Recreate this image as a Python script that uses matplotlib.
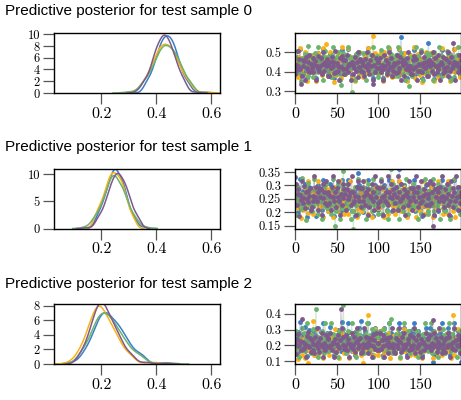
import numpy as np
import matplotlib.pyplot as plt
from matplotlib.ticker import FuncFormatter

plt.rcParams["font.family"] = "cmr10"
plt.rcParams["axes.formatter.use_mathtext"] = True

# chain colours (4 chains per test sample)
chain_colors = ["#3b7ec8", "#fbb117", "#6cb36c", "#7e5a8c"]

# posterior predictive draws (x1000), one list per chain -- test sample 0
s0_chain0 = [
    457, 411, 442, 386, 475, 433, 514, 417, 452, 397, 469, 438, 494, 423, 366, 447, 405, 483, 428, 463,
    426, 485, 407, 449, 461, 368, 444, 421, 496, 409, 435, 473, 399, 454, 516, 415, 459, 436, 471, 384,
    471, 422, 491, 440, 403, 455, 445, 369, 466, 394, 443, 430, 480, 419, 459, 389, 511, 431, 478, 409,
    399, 444, 414, 517, 431, 472, 425, 450, 383, 466, 436, 461, 363, 486, 426, 455, 413, 497, 407, 449,
    445, 388, 460, 430, 481, 436, 459, 402, 518, 413, 450, 420, 440, 369, 473, 435, 491, 425, 467, 399,
    465, 430, 481, 407, 445, 368, 425, 492, 440, 471, 399, 454, 415, 516, 437, 473, 388, 444, 413, 455,
    386, 469, 438, 457, 417, 514, 452, 575, 475, 433, 411, 494, 423, 442, 366, 463, 447, 405, 483, 428,
    413, 477, 431, 511, 389, 455, 419, 480, 426, 444, 395, 466, 369, 449, 450, 407, 436, 497, 423, 471,
    548, 403, 491, 413, 459, 426, 486, 363, 461, 440, 467, 388, 455, 421, 477, 431, 512, 419, 444, 395,
    399, 467, 425, 496, 431, 473, 368, 444, 415, 455, 409, 517, 403, 459, 436, 481, 430, 461, 384, 449]
s0_chain1 = [
    455, 402, 438, 372, 476, 427, 521, 409, 449, 384, 468, 432, 498, 415, 349, 443, 394, 486, 421, 461,
    423, 483, 397, 440, 464, 352, 436, 418, 495, 405, 429, 473, 381, 452, 518, 411, 458, 541, 465, 375,
    466, 417, 501, 430, 391, 451, 441, 346, 463, 381, 440, 419, 489, 406, 457, 369, 524, 425, 479, 400,
    387, 436, 411, 518, 424, 479, 413, 452, 369, 465, 434, 459, 352, 489, 418, 457, 399, 501, 391, 445,
    441, 374, 463, 419, 483, 430, 457, 392, 518, 404, 447, 411, 440, 584, 479, 425, 495, 417, 466, 386,
    463, 418, 489, 396, 441, 352, 413, 501, 430, 471, 381, 451, 406, 519, 425, 478, 370, 440, 399, 457,
    375, 466, 434, 452, 411, 518, 447, 387, 473, 429, 404, 495, 417, 436, 352, 458, 445, 391, 483, 424,
    400, 478, 425, 524, 369, 457, 407, 489, 419, 440, 382, 463, 346, 441, 451, 392, 430, 501, 413, 471,
    445, 391, 496, 405, 453, 418, 488, 352, 459, 434, 466, 374, 451, 412, 478, 425, 518, 411, 436, 387,
    381, 471, 413, 501, 429, 473, 351, 436, 407, 452, 404, 517, 396, 457, 430, 484, 423, 459, 374, 441]
s0_chain2 = [
    474, 420, 505, 437, 398, 454, 449, 352, 467, 388, 443, 426, 492, 413, 460, 375, 528, 431, 482, 406,
    451, 372, 469, 424, 495, 435, 462, 396, 525, 409, 452, 415, 441, 355, 480, 433, 503, 418, 476, 386,
    462, 403, 445, 372, 484, 429, 525, 411, 456, 386, 476, 435, 502, 422, 355, 330, 396, 494, 424, 469,
    386, 445, 411, 525, 433, 479, 422, 452, 293, 476, 435, 469, 355, 489, 428, 458, 408, 502, 396, 451,
    424, 494, 396, 451, 465, 355, 441, 422, 502, 408, 429, 484, 386, 456, 525, 411, 462, 435, 477, 372,
    390, 471, 418, 508, 433, 479, 355, 441, 415, 452, 404, 524, 400, 458, 439, 489, 424, 469, 377, 447,
    404, 484, 429, 525, 377, 462, 411, 494, 428, 441, 386, 469, 355, 447, 456, 396, 439, 325, 418, 476,
    377, 471, 435, 463, 411, 525, 452, 390, 479, 433, 404, 508, 418, 445, 355, 465, 451, 396, 494, 424,
    469, 424, 489, 400, 447, 355, 422, 502, 435, 476, 386, 456, 411, 525, 429, 484, 377, 441, 408, 462,
    451, 396, 503, 408, 458, 428, 489, 355, 469, 435, 476, 372, 456, 418, 484, 429, 525, 415, 441, 390]
s0_chain3 = [
    387, 432, 407, 504, 428, 465, 413, 335, 376, 459, 428, 453, 356, 473, 418, 447, 401, 484, 395, 437,
    420, 470, 397, 435, 455, 359, 430, 415, 481, 403, 426, 467, 389, 440, 501, 405, 449, 426, 462, 378,
    435, 378, 451, 420, 476, 426, 449, 393, 507, 399, 444, 405, 430, 359, 467, 421, 481, 415, 457, 389,
    457, 415, 486, 426, 397, 440, 439, 358, 451, 389, 434, 416, 475, 405, 449, 374, 501, 425, 463, 403,
    449, 399, 434, 378, 463, 425, 501, 409, 440, 389, 457, 426, 486, 337, 358, 435, 397, 471, 420, 451,
    451, 420, 471, 397, 435, 358, 415, 482, 426, 461, 385, 444, 409, 502, 421, 467, 378, 430, 403, 445,
    439, 393, 486, 399, 449, 416, 475, 358, 451, 432, 457, 378, 444, 411, 467, 426, 501, 409, 430, 389,
    389, 457, 415, 481, 425, 463, 358, 434, 405, 440, 403, 502, 397, 445, 426, 475, 416, 451, 378, 435,
    378, 461, 426, 449, 405, 501, 440, 389, 467, 430, 399, 486, 411, 434, 358, 451, 439, 393, 475, 420,
    403, 463, 421, 501, 378, 449, 405, 475, 416, 434, 545, 451, 358, 435, 444, 397, 426, 486, 411, 457]

# test sample 1
s1_chain0 = [
    269, 226, 255, 202, 286, 246, 323, 232, 264, 212, 280, 251, 304, 237, 183, 260, 220, 294, 242, 274,
    244, 291, 222, 258, 277, 186, 253, 239, 301, 228, 248, 283, 210, 266, 320, 230, 271, 249, 282, 205,
    278, 239, 307, 249, 222, 262, 258, 186, 276, 210, 257, 240, 296, 234, 267, 200, 320, 248, 284, 228,
    210, 257, 230, 320, 248, 283, 239, 262, 205, 278, 249, 276, 186, 291, 244, 345, 228, 301, 222, 258,
    262, 200, 276, 240, 291, 253, 267, 222, 320, 228, 262, 230, 257, 186, 284, 248, 301, 239, 278, 210,
    276, 240, 291, 222, 258, 186, 239, 301, 249, 282, 210, 266, 230, 320, 248, 284, 205, 257, 228, 267,
    205, 278, 249, 271, 230, 362, 262, 210, 284, 248, 228, 301, 239, 257, 186, 276, 258, 222, 291, 244,
    228, 284, 248, 320, 205, 267, 230, 291, 244, 253, 210, 276, 186, 262, 262, 222, 249, 301, 239, 278,
    258, 222, 301, 228, 271, 240, 291, 186, 276, 249, 282, 205, 262, 239, 284, 248, 320, 230, 257, 210,
    210, 278, 239, 301, 248, 284, 186, 253, 230, 266, 228, 320, 222, 267, 249, 291, 244, 276, 205, 258]
s1_chain1 = [
    275, 232, 299, 246, 215, 259, 255, 178, 269, 207, 250, 237, 289, 227, 264, 197, 318, 241, 281, 221,
    257, 195, 271, 235, 291, 244, 266, 213, 315, 223, 261, 225, 252, 181, 279, 243, 296, 234, 277, 205,
    239, 287, 217, 253, 271, 181, 248, 234, 296, 223, 243, 279, 205, 261, 315, 225, 266, 244, 277, 195,
    266, 219, 252, 195, 283, 239, 315, 229, 261, 205, 277, 244, 296, 234, 181, 257, 213, 291, 235, 271,
    205, 252, 225, 315, 243, 279, 234, 257, 195, 277, 244, 271, 181, 287, 239, 262, 223, 296, 217, 253,
    253, 217, 296, 223, 262, 239, 287, 181, 271, 244, 277, 195, 261, 230, 283, 243, 315, 225, 252, 205,
    195, 277, 244, 266, 225, 315, 261, 205, 283, 239, 223, 296, 234, 248, 181, 271, 257, 213, 291, 235,
    271, 235, 291, 213, 257, 181, 230, 296, 244, 277, 205, 261, 225, 315, 243, 279, 195, 252, 219, 266,
    205, 277, 230, 296, 243, 279, 181, 248, 225, 261, 223, 315, 213, 266, 235, 291, 244, 271, 195, 257,
    223, 279, 243, 315, 195, 266, 225, 291, 235, 252, 205, 271, 181, 257, 261, 213, 244, 296, 230, 277]
s1_chain2 = [
    258, 192, 274, 237, 296, 248, 268, 213, 328, 220, 263, 226, 252, 172, 287, 242, 308, 232, 280, 204,
    206, 250, 228, 325, 244, 285, 234, 261, 195, 278, 246, 276, 175, 294, 239, 266, 222, 305, 215, 256,
    266, 222, 250, 195, 285, 244, 325, 228, 148, 206, 278, 246, 305, 234, 175, 256, 215, 294, 355, 276,
    278, 234, 305, 246, 215, 261, 256, 175, 276, 206, 140, 239, 294, 228, 266, 195, 325, 244, 285, 222,
    239, 294, 215, 256, 276, 175, 250, 234, 305, 222, 244, 285, 206, 261, 325, 228, 266, 246, 278, 195,
    222, 285, 244, 325, 195, 266, 228, 294, 239, 250, 206, 276, 175, 256, 261, 360, 246, 305, 234, 278,
    276, 239, 294, 215, 256, 175, 234, 305, 246, 278, 206, 261, 228, 325, 244, 285, 195, 250, 222, 266,
    256, 215, 305, 222, 266, 239, 294, 175, 276, 246, 278, 195, 261, 234, 285, 244, 325, 228, 250, 206,
    195, 278, 246, 266, 228, 325, 261, 206, 285, 244, 222, 305, 234, 250, 175, 276, 256, 215, 294, 239,
    206, 278, 234, 305, 244, 285, 175, 250, 228, 261, 222, 325, 215, 266, 246, 294, 239, 276, 195, 256]
s1_chain3 = [
    333, 306, 226, 269, 285, 187, 264, 245, 317, 233, 255, 298, 218, 274, 250, 239, 279, 260, 291, 207,
    220, 262, 241, 334, 257, 296, 243, 276, 209, 289, 258, 287, 190, 304, 252, 277, 235, 315, 228, 267,
    277, 235, 262, 209, 296, 257, 334, 241, 276, 220, 289, 258, 315, 243, 190, 267, 228, 304, 252, 287,
    267, 209, 287, 248, 304, 262, 277, 228, 334, 235, 276, 241, 262, 190, 296, 257, 315, 243, 289, 220,
    289, 243, 315, 262, 228, 276, 267, 190, 287, 220, 262, 252, 304, 241, 277, 209, 334, 257, 296, 235,
    220, 289, 243, 315, 257, 296, 190, 262, 241, 276, 235, 334, 228, 277, 258, 304, 252, 287, 209, 267,
    235, 296, 257, 334, 209, 277, 241, 304, 252, 262, 220, 287, 190, 267, 276, 228, 258, 315, 243, 289,
    209, 289, 258, 277, 241, 334, 276, 220, 296, 257, 235, 315, 243, 262, 190, 287, 267, 228, 304, 252,
    267, 228, 315, 235, 277, 150, 304, 190, 287, 258, 289, 209, 276, 243, 296, 257, 334, 241, 262, 220,
    287, 252, 304, 228, 267, 190, 243, 315, 262, 289, 220, 276, 241, 334, 257, 296, 209, 262, 235, 277]

# test sample 2
s2_chain0 = [
    254, 190, 229, 159, 284, 217, 347, 198, 246, 172, 273, 223, 315, 205, 135, 237, 182, 297, 211, 263,
    213, 294, 185, 235, 266, 138, 227, 207, 312, 192, 215, 287, 170, 248, 344, 196, 256, 221, 276, 162,
    271, 207, 318, 221, 185, 244, 239, 138, 261, 174, 231, 209, 299, 196, 256, 161, 350, 215, 281, 192,
    174, 227, 200, 344, 215, 286, 207, 244, 161, 271, 225, 261, 138, 294, 213, 252, 192, 312, 185, 357,
    239, 161, 261, 213, 294, 225, 252, 185, 344, 192, 248, 196, 231, 138, 281, 219, 312, 207, 271, 174,
    261, 213, 294, 185, 239, 138, 207, 312, 225, 271, 174, 248, 196, 344, 219, 281, 162, 231, 192, 252,
    162, 271, 225, 252, 200, 344, 248, 174, 281, 219, 192, 312, 207, 231, 138, 261, 239, 185, 294, 213,
    192, 281, 219, 344, 161, 256, 196, 294, 213, 231, 174, 261, 138, 239, 248, 185, 221, 312, 207, 271,
    239, 185, 312, 192, 256, 92, 294, 138, 271, 225, 261, 161, 248, 207, 281, 219, 344, 200, 227, 174,
    174, 271, 207, 312, 219, 281, 138, 231, 196, 248, 192, 344, 213, 252, 221, 294, 185, 261, 161, 95]
s2_chain1 = [
    151, 203, 175, 112, 192, 252, 181, 218, 139, 243, 197, 233, 117, 264, 186, 90, 168, 280, 161, 210,
    227, 166, 355, 141, 250, 194, 306, 177, 216, 153, 241, 199, 278, 183, 120, 208, 163, 262, 188, 231,
    208, 141, 231, 188, 262, 199, 227, 163, 306, 166, 220, 177, 205, 120, 250, 190, 278, 183, 241, 153,
    188, 262, 163, 208, 231, 120, 205, 183, 278, 166, 190, 250, 153, 216, 306, 177, 227, 199, 241, 141,
    241, 183, 85, 199, 163, 216, 208, 390, 231, 153, 205, 188, 262, 177, 227, 141, 306, 194, 250, 166,
    141, 241, 199, 227, 177, 306, 216, 153, 250, 194, 166, 278, 183, 205, 120, 231, 208, 163, 262, 188,
    153, 241, 183, 278, 190, 250, 120, 205, 177, 216, 166, 306, 163, 227, 188, 262, 199, 231, 141, 208,
    166, 250, 194, 306, 141, 227, 177, 262, 188, 205, 153, 231, 120, 208, 216, 163, 199, 278, 183, 241,
    231, 188, 262, 163, 208, 120, 183, 278, 199, 241, 153, 216, 177, 306, 190, 250, 141, 205, 166, 227,
    208, 163, 278, 166, 227, 188, 262, 120, 231, 199, 395, 141, 216, 183, 250, 194, 306, 177, 205, 153]
s2_chain2 = [
    202, 290, 174, 230, 256, 124, 221, 196, 309, 181, 209, 277, 163, 239, 342, 189, 247, 215, 266, 149,
    264, 198, 306, 217, 176, 430, 232, 127, 254, 165, 223, 200, 288, 191, 245, 151, 339, 211, 275, 183,
    165, 223, 191, 339, 211, 275, 198, 237, 151, 264, 217, 254, 127, 288, 200, 245, 183, 306, 455, 232,
    232, 151, 254, 200, 288, 217, 245, 176, 339, 183, 237, 191, 223, 127, 275, 211, 306, 198, 264, 165,
    245, 183, 223, 151, 275, 211, 339, 191, 237, 165, 264, 217, 306, 198, 127, 232, 176, 288, 200, 254,
    254, 200, 288, 176, 232, 127, 198, 306, 217, 264, 165, 237, 191, 339, 211, 370, 151, 223, 183, 245,
    165, 264, 198, 306, 211, 275, 127, 223, 191, 237, 183, 339, 176, 245, 217, 288, 200, 254, 151, 232,
    232, 176, 306, 183, 245, 200, 288, 127, 254, 217, 264, 151, 237, 198, 275, 211, 339, 191, 223, 165,
    183, 275, 211, 339, 151, 245, 191, 288, 200, 223, 165, 254, 127, 232, 237, 176, 217, 306, 198, 264,
    151, 264, 217, 245, 191, 339, 237, 165, 275, 211, 183, 306, 198, 223, 127, 254, 232, 176, 288, 204]
s2_chain3 = [
    216, 147, 239, 193, 269, 203, 230, 168, 368, 175, 223, 181, 209, 125, 257, 198, 284, 188, 247, 158,
    232, 173, 211, 149, 255, 200, 310, 183, 221, 160, 245, 205, 281, 190, 127, 214, 170, 267, 195, 237,
    245, 190, 281, 205, 170, 221, 214, 127, 237, 160, 211, 195, 267, 183, 232, 430, 310, 200, 255, 177,
    195, 267, 170, 214, 237, 127, 211, 190, 281, 177, 200, 255, 160, 221, 310, 183, 232, 205, 245, 149,
    160, 211, 183, 310, 200, 255, 190, 221, 149, 245, 205, 237, 127, 267, 195, 232, 177, 281, 170, 214,
    214, 170, 281, 177, 232, 195, 267, 127, 237, 205, 245, 149, 221, 190, 255, 200, 310, 183, 211, 160,
    149, 245, 205, 232, 183, 310, 221, 160, 255, 200, 177, 281, 190, 211, 127, 237, 214, 170, 267, 195,
    177, 255, 200, 310, 149, 232, 183, 267, 195, 211, 160, 237, 127, 214, 221, 170, 205, 281, 190, 245,
    237, 195, 267, 170, 214, 360, 190, 281, 205, 245, 160, 221, 183, 310, 200, 255, 149, 211, 177, 232,
    160, 245, 190, 281, 200, 255, 127, 211, 183, 221, 177, 310, 170, 232, 205, 267, 195, 237, 149, 214]

samples = [
    [s0_chain0, s0_chain1, s0_chain2, s0_chain3],
    [s1_chain0, s1_chain1, s1_chain2, s1_chain3],
    [s2_chain0, s2_chain1, s2_chain2, s2_chain3],
]

# axis ticks / limits per row
kde_yticks = [[0, 2, 4, 6, 8, 10], [0, 5, 10], [0, 2, 4, 6, 8]]
kde_ylims = [(0, 10.2), (0, 11.0), (0, 8.23)]
kde_xticks = [0.2, 0.4, 0.6]
trace_yticks = [[0.3, 0.4, 0.5], [0.15, 0.2, 0.25, 0.3, 0.35], [0.1, 0.2, 0.3, 0.4]]
trace_ylims = [(0.29, 0.597), (0.14, 0.363), (0.081, 0.463)]
trace_xticks = [0, 50, 100, 150]


def kde(vals):
    vals = np.asarray(vals)
    bw = 1.06 * vals.std() * len(vals) ** -0.2
    grid = np.linspace(vals.min() - 3 * bw, vals.max() + 3 * bw, 300)
    z = (grid[:, None] - vals[None, :]) / bw
    dens = np.exp(-0.5 * z ** 2).sum(axis=1) / (len(vals) * bw * np.sqrt(2 * np.pi))
    return grid, dens


W, H = 461, 400
fig = plt.figure(figsize=(W / 100, H / 100), dpi=100)

tops = [33, 168.5, 304]
baselines = [15, 151, 288]
ax_w, ax_h = 166, 60
fmt = FuncFormatter(lambda v, p: f"{v:g}")

curves = [[kde(np.array(c) / 1000) for c in row] for row in samples]
x_lo = min(g[0] for row in curves for g, d in row)
x_hi = max(g[-1] for row in curves for g, d in row)

for i, row in enumerate(samples):
    fig.text(5 / W, 1 - baselines[i] / H, f"Predictive posterior for test sample {i}",
             family="Liberation Sans", fontsize=11, va="baseline", ha="left")
    ax_kde = fig.add_axes([54 / W, 1 - (tops[i] + ax_h) / H, ax_w / W, ax_h / H])
    ax_tr = fig.add_axes([295 / W, 1 - (tops[i] + ax_h) / H, ax_w / W, ax_h / H])

    for (grid, dens), color in zip(curves[i], chain_colors):
        ax_kde.plot(grid, dens, color=color, lw=1.1)
    for chain, color in zip(row, chain_colors):
        y = np.array(chain) / 1000
        x = np.arange(len(y))
        ax_tr.plot(x, y, color=color, lw=0.8, alpha=0.3)
        ax_tr.plot(x, y, "o", color=color, ms=3.5, mew=0)

    ax_kde.set_xlim(x_lo, x_hi)
    ax_kde.set_ylim(*kde_ylims[i])
    ax_kde.set_xticks(kde_xticks)
    ax_kde.set_yticks(kde_yticks[i])
    ax_tr.set_xlim(0, 199)
    ax_tr.set_ylim(*trace_ylims[i])
    ax_tr.set_xticks(trace_xticks)
    ax_tr.set_yticks(trace_yticks[i])

    for ax in (ax_kde, ax_tr):
        ax.xaxis.set_major_formatter(fmt)
        ax.yaxis.set_major_formatter(fmt)
        ax.tick_params(length=8, width=0.9, color="#555555", pad=2)
        ax.tick_params(axis="x", labelsize=11.5)
        ax.tick_params(axis="y", labelsize=9)
        for sp in ax.spines.values():
            sp.set_linewidth(1.0)

fig.savefig("out.png", dpi=100)
